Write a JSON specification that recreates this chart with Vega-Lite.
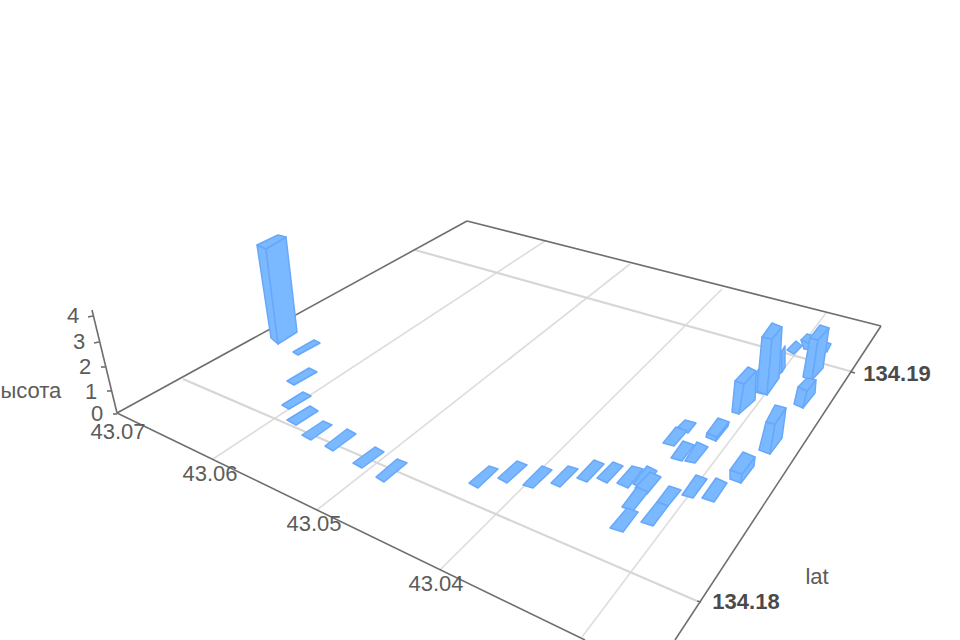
{"$schema":"https://vega.github.io/schema/vega-lite/v6.json","width":960,"height":640,"padding":0,"autosize":{"type":"none"},"background":"#ffffff","view":{"stroke":null},
"datasets":{
"grid":[
{"x":415,"y":250,"x2":853,"y2":372,"kind":"lat"},
{"x":183,"y":379,"x2":697,"y2":601,"kind":"lat"},
{"x":213,"y":459,"x2":545,"y2":241,"kind":"lng"},
{"x":317,"y":510,"x2":630,"y2":264,"kind":"lng"},
{"x":440,"y":570,"x2":722,"y2":289,"kind":"lng"},
{"x":582,"y":637,"x2":826,"y2":313,"kind":"lng"}],
"axes":[
{"x":117,"y":413,"x2":467,"y2":221},
{"x":467,"y":221,"x2":881,"y2":326},
{"x":117,"y":413,"x2":585,"y2":640},
{"x":881,"y":326,"x2":675,"y2":640},
{"x":92,"y":310,"x2":117,"y2":413},
{"x":88,"y":317,"x2":93,"y2":316},
{"x":94,"y":343,"x2":99,"y2":342},
{"x":101,"y":367,"x2":105,"y2":367},
{"x":107,"y":391,"x2":111,"y2":391},
{"x":113,"y":414,"x2":117,"y2":414},
{"x":851,"y":372,"x2":855,"y2":373},
{"x":697,"y":601,"x2":701,"y2":602}],
"labels":[
{"t":"43.07","x":118,"y":431},
{"t":"43.06","x":210,"y":473},
{"t":"43.05","x":314,"y":523},
{"t":"43.04","x":436,"y":583},
{"t":"lat","x":817,"y":576},
{"t":"4","x":73,"y":315},
{"t":"3","x":79,"y":341},
{"t":"2","x":85,"y":366},
{"t":"1","x":91,"y":391},
{"t":"0","x":97,"y":413},
{"t":"Высота","x":23.5,"y":390}],
"boldLabels":[
{"t":"134.19","x":897,"y":373},
{"t":"134.18","x":746,"y":601}],
"faces":[
{"id":"t01","k":[0,1,2,3],"x":[293,298,320,314],"y":[352,355,343,340]},
{"id":"t02","k":[0,1,2,3],"x":[287,294,317,309],"y":[381,385,372,368]},
{"id":"t03","k":[0,1,2,3],"x":[282,289,311,303],"y":[405,409,396,392]},
{"id":"t04","k":[0,1,2,3],"x":[287,296,318,310],"y":[420,425,411,406]},
{"id":"t05","k":[0,1,2,3],"x":[302,311,332,323],"y":[435,440,425,421]},
{"id":"t06","k":[0,1,2,3],"x":[325,333,356,347],"y":[446,451,434,429]},
{"id":"t07","k":[0,1,2,3],"x":[353,362,384,375],"y":[463,468,452,447]},
{"id":"t08","k":[0,1,2,3],"x":[376,384,407,397],"y":[477,482,463,459]},
{"id":"t09","k":[0,1,2,3],"x":[469,478,498,489],"y":[483,488,469,466]},
{"id":"t10","k":[0,1,2,3],"x":[498,507,527,517],"y":[478,483,465,461]},
{"id":"t11","k":[0,1,2,3],"x":[523,533,552,542],"y":[485,488,470,466]},
{"id":"t12","k":[0,1,2,3],"x":[551,560,578,568],"y":[483,487,469,466]},
{"id":"t13","k":[0,1,2,3],"x":[577,587,604,594],"y":[478,482,464,460]},
{"id":"t14","k":[0,1,2,3],"x":[597,607,623,613],"y":[478,483,466,462]},
{"id":"t15","k":[0,1,2,3],"x":[617,628,643,632],"y":[483,488,469,466]},
{"id":"t16","k":[0,1,2,3],"x":[633,643,657,647],"y":[484,488,471,466]},
{"id":"t17","k":[0,1,2,3],"x":[635,647,661,650],"y":[488,494,477,472]},
{"id":"t18","k":[0,1,2,3],"x":[622,633,648,637],"y":[507,511,492,487]},
{"id":"t19","k":[0,1,2,3],"x":[610,623,638,627],"y":[528,532,512,508]},
{"id":"t20","k":[0,1,2,3],"x":[657,668,681,669],"y":[502,506,490,486]},
{"id":"t21","k":[0,1,2,3],"x":[641,653,668,657],"y":[522,526,506,502]},
{"id":"t22","k":[0,1,2,3],"x":[682,693,707,696],"y":[495,498,479,475]},
{"id":"t23","k":[0,1,2,3],"x":[702,714,727,716],"y":[498,502,483,478]},
{"id":"t24","k":[0,1,2,3],"x":[678,688,696,685],"y":[427,433,423,420]},
{"id":"t25","k":[0,1,2,3],"x":[663,674,687,676],"y":[443,446,431,427]},
{"id":"t26","k":[0,1,2,3],"x":[671,682,694,683],"y":[458,461,445,441]},
{"id":"t27","k":[0,1,2,3],"x":[685,695,708,697],"y":[461,463,447,442]},
{"id":"r1","k":[0,1,2,3],"x":[707,717,716,706],"y":[433,437,441,437]},
{"id":"r2","k":[0,1,2,3],"x":[717,729,728,716],"y":[437,422,426,441]},
{"id":"r3","k":[0,1,2,3],"x":[707,717,729,718],"y":[433,437,422,418]},
{"id":"s1","k":[0,1,2,3],"x":[730,742,741,730],"y":[470,474,483,479]},
{"id":"s2","k":[0,1,2,3],"x":[742,755,754,741],"y":[474,457,466,483]},
{"id":"s3","k":[0,1,2,3],"x":[730,742,755,743],"y":[470,474,457,452]},
{"id":"u1","k":[0,1,2,3],"x":[766,775,770,759],"y":[422,424,454,450]},
{"id":"u2","k":[0,1,2,3],"x":[775,786,782,770],"y":[424,408,438,454]},
{"id":"u3","k":[0,1,2,3],"x":[766,775,786,775],"y":[422,424,408,405]},
{"id":"z1","k":[0,1,2,3],"x":[787,794,802,796],"y":[350,354,346,341]},
{"id":"cc","k":[0,1,2,3],"x":[822,827,831,826],"y":[349,352,344,342]},
{"id":"aa1","k":[0,1,2,3],"x":[801,809,812,804],"y":[340,343,350,349]},
{"id":"aa2","k":[0,1,2,3],"x":[801,808,814,807],"y":[340,343,336,334]},
{"id":"y1","k":[0,1,2,3],"x":[777,782,782,777],"y":[349,351,372,375]},
{"id":"y2","k":[0,1,2,3],"x":[782,785,785,782],"y":[351,346,367,372]},
{"id":"w1","k":[0,1,2,3],"x":[755,763,763,755],"y":[375,378,394,392]},
{"id":"w2","k":[0,1,2,3],"x":[763,767,767,763],"y":[378,372,386,394]},
{"id":"w3","k":[0,1,2,3],"x":[755,763,767,759],"y":[375,378,372,369]},
{"id":"x1","k":[0,1,2,3],"x":[762,772,767,757],"y":[337,339,395,391]},
{"id":"x2","k":[0,1,2,3],"x":[772,782,779,767],"y":[339,327,378,395]},
{"id":"x3","k":[0,1,2,3],"x":[762,772,782,772],"y":[337,339,327,323]},
{"id":"v1","k":[0,1,2,3],"x":[735,744,739,732],"y":[381,384,414,412]},
{"id":"v2","k":[0,1,2,3],"x":[744,756,755,739],"y":[384,371,400,414]},
{"id":"v3","k":[0,1,2,3],"x":[735,744,756,748],"y":[381,384,371,367]},
{"id":"b1","k":[0,1,2,3],"x":[810,818,812,803],"y":[338,340,380,377]},
{"id":"b2","k":[0,1,2,3],"x":[818,829,823,812],"y":[340,328,368,380]},
{"id":"b3","k":[0,1,2,3],"x":[810,818,829,820],"y":[338,340,328,325]},
{"id":"d1","k":[0,1,2,3],"x":[798,807,803,794],"y":[387,391,408,404]},
{"id":"d2","k":[0,1,2,3],"x":[807,816,815,803],"y":[391,380,393,408]},
{"id":"d3","k":[0,1,2,3],"x":[798,807,816,807],"y":[387,391,380,378]},
{"id":"h1","k":[0,1,2,3],"x":[257,266,278,271],"y":[245,249,344,338]},
{"id":"h2","k":[0,1,2,3],"x":[266,286,297,278],"y":[249,237,332,344]},
{"id":"h3","k":[0,1,2,3],"x":[257,266,286,278],"y":[245,249,237,235]}]
},
"encoding":{"x":{"field":"x","type":"quantitative","scale":{"domain":[0,960],"nice":false,"zero":false},"axis":null},"y":{"field":"y","type":"quantitative","scale":{"domain":[640,0],"nice":false,"zero":false},"axis":null}},
"layer":[
{"data":{"name":"grid"},"transform":[{"filter":"datum.kind==='lng'"}],"mark":{"type":"rule","color":"#dddddd","strokeWidth":1.6},
"encoding":{"x2":{"field":"x2"},"y2":{"field":"y2"}}},
{"data":{"name":"grid"},"transform":[{"filter":"datum.kind==='lat'"}],"mark":{"type":"rule","color":"#d6d6d6","strokeWidth":2.2},
"encoding":{"x2":{"field":"x2"},"y2":{"field":"y2"}}},
{"data":{"name":"axes"},"mark":{"type":"rule","color":"#6e6e6e","strokeWidth":1.6},
"encoding":{"x2":{"field":"x2"},"y2":{"field":"y2"}}},
{"data":{"name":"faces"},"transform":[{"flatten":["k","x","y"]}],
"mark":{"type":"line","filled":true,"fill":"#7ab8ff","stroke":"#68a8fa","strokeWidth":1.5,"interpolate":"linear-closed","strokeJoin":"round","opacity":1},
"encoding":{"detail":{"field":"id"},"order":{"field":"k"}}},
{"data":{"name":"labels"},"mark":{"type":"text","font":"Liberation Sans","fontSize":22,"color":"#5c5c5c","align":"center","baseline":"middle","dy":1},
"encoding":{"text":{"field":"t"}}},
{"data":{"name":"boldLabels"},"mark":{"type":"text","font":"Liberation Sans","fontSize":22,"fontWeight":"bold","color":"#4a4a4a","align":"center","baseline":"middle","dy":1},
"encoding":{"text":{"field":"t"}}}
]}
